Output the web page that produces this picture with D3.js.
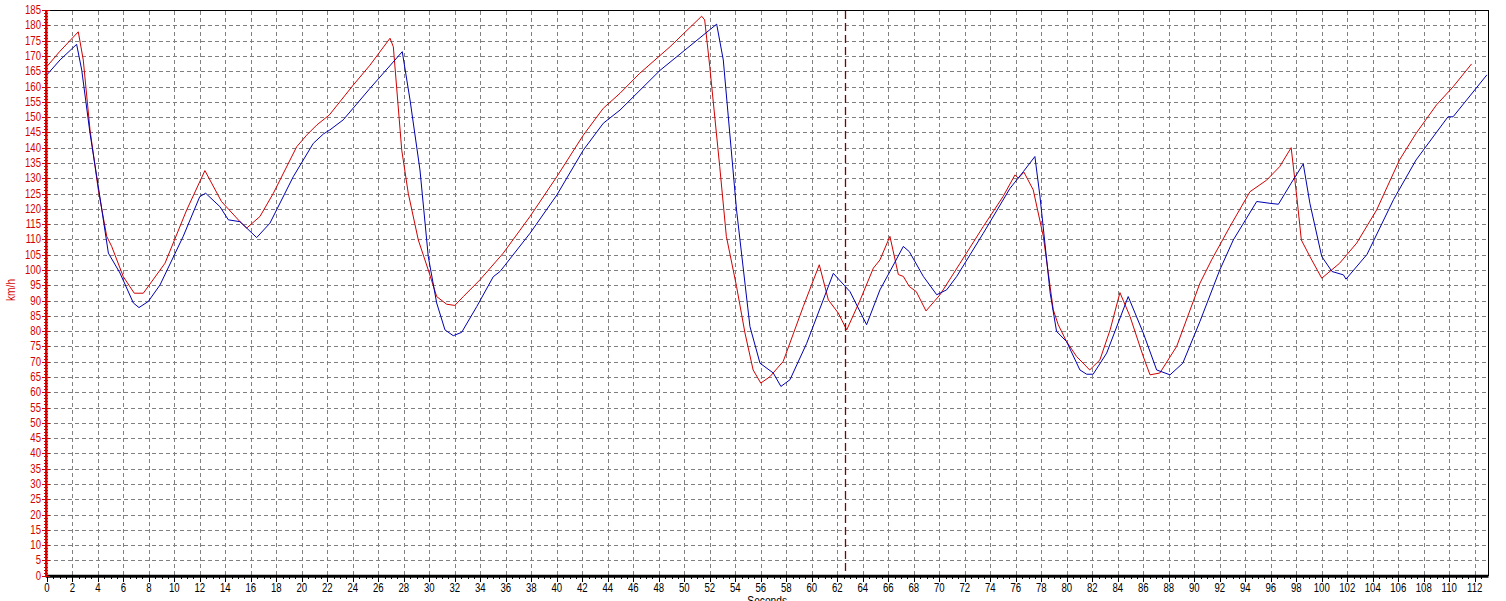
<!DOCTYPE html>
<html>
<head>
<meta charset="utf-8">
<script src="https://cdn.jsdelivr.net/npm/d3@7"></script>
<style>
html,body{margin:0;padding:0;background:#fff;overflow:hidden;}
svg{display:block;}
</style>
</head>
<body>
<svg id="chart" width="1506" height="601"></svg>
<script>
// ---- data ----
const redT = [0,1.0,2.47,2.86,3.39,4.04,4.7,5.09,6.0,6.86,7.57,9.27,10.97,12.4,13.7,15.15,15.68,16.72,17.77,19.6,20.38,21.17,22.16,24.04,25.35,26.92,27.18,27.84,28.35,29.14,29.92,30.58,31.36,32.0,32.67,33.98,35.8,37.9,40.0,42.08,43.65,44.96,46.5,48.88,51.36,51.6,52.0,52.78,53.3,54.1,54.76,55.4,56.0,56.72,57.76,59.33,60.59,61.3,62.08,62.74,63.8,64.83,65.35,66.13,66.79,67.18,67.65,68.2,68.96,70.06,71.63,73.45,75.0,75.94,76.2,76.64,77.37,78.16,78.94,79.33,79.98,80.77,81.8,82.6,83.4,84.17,84.96,86.0,86.53,87.3,88.62,90.45,91.36,92.8,94.37,95.68,96.7,97.6,98.04,98.4,99.07,100.0,101.4,102.74,104.3,106.1,107.4,109.0,110.3,111.75];
const redV = [166.5,171.4,177.9,168.7,145.8,126.2,111,107.7,97.8,92.4,92.4,102.2,119.6,132.5,122.4,115.8,113.7,117.5,125.1,140.3,144.1,147.4,150.7,160.5,167,175.8,173,139.2,125.1,109.8,100,91.3,88.8,88.4,91.3,96.8,105.5,117.5,130.5,144.1,152.9,157.8,164.3,173,183,181.8,166.5,133.8,111,94.6,79.4,67.3,63,65.1,70.1,88,101.7,90.2,85.9,80.4,90.2,100.6,103.3,111,98.5,97.9,94.6,92.9,86.6,91.9,102.2,114.2,124,131.1,130,132,126.2,111,87,82.1,76.6,71.7,67.3,70.6,80.4,92.6,84.8,71.7,65.7,66.3,75,95.7,103.3,114.2,125.6,129.4,133.8,140,124,109.8,104.4,97.3,102.2,108.8,119.6,136,144.7,154,159.9,167.4];
const blueT = [0,1.04,2.34,2.74,3.39,4.04,4.83,5.74,6.79,7.23,7.96,8.88,10.7,12.0,12.46,13.58,14.24,15.15,16.46,17.5,19.33,20.9,21.7,22.2,23.25,25.35,27.88,28.49,29.27,29.92,30.58,31.23,31.88,32.54,33.72,35.02,35.55,37.9,40.0,42.08,43.65,44.96,48.1,52.54,53.06,54.1,55.15,55.94,56.98,57.58,58.29,59.6,61.69,63.0,64.3,65.35,66.13,67.18,67.65,68.75,69.8,70.58,71.37,73.45,75.55,76.6,77.5,77.9,78.7,79.2,79.98,81.03,81.56,82.07,83.13,84.82,86.0,87.05,88.1,89.1,90.45,92.0,93.06,94.9,95.94,96.6,97.6,98.55,99.07,100.0,100.8,101.7,101.9,103.55,105.64,107.4,109.9,110.3,112.95];
const blueV = [163.8,168.7,173.8,165.4,144.7,127.3,105.5,99,89.2,87.7,89.7,95.1,111,124,125.1,120.7,116.4,115.8,110.6,115.3,130.5,141.4,144.5,145.8,149.1,159.4,171.4,155.6,132.7,104.4,89.2,80.4,78.5,79.6,88,97.8,99.5,112,124.5,139.2,148,152.3,165.3,180.4,168.7,119.6,81.5,69.5,66.3,61.9,64.1,76,98.9,92.9,82.1,93.5,99.5,107.7,106,97.9,91.9,93.5,97.9,112,126.7,132.2,137.1,124,92.4,79.9,76.6,67.3,65.9,65.9,72.8,91.3,79.4,67.3,65.7,69.5,83.2,100,109.8,122.4,121.8,121.5,128.4,134.7,121.8,104.4,99.5,98.4,97,105.1,123.1,136,150.1,150.1,163.8];
const markerT = 62.6;
const xTicks = d3.range(0, 113, 2);
const yTicks = d3.range(0, 186, 5);
const xTitle = "Seconds";
const yTitle = "km/h";

// ---- layout ----
const svg = d3.select("#chart");
const L = 46.8, R = 1487.5, T = 10.1, B = 575.7;
const x = d3.scaleLinear().domain([0, 113]).range([L, R]);
const y = d3.scaleLinear().domain([0, 185]).range([B, T]);
const font = "'Liberation Sans', Arial, sans-serif";
const axisRed = "#d40000";

svg.append("rect").attr("width",1506).attr("height",601).attr("fill","#fff");

// grid
const grid = svg.append("g").attr("stroke","#808080").attr("stroke-width",1)
  .attr("stroke-dasharray","4,3").attr("shape-rendering","crispEdges");
grid.selectAll("line.v").data(xTicks.filter(d=>d>0)).enter().append("line")
  .attr("x1",d=>Math.round(x(d))+0.5).attr("x2",d=>Math.round(x(d))+0.5)
  .attr("y1",T+1).attr("y2",B);
grid.selectAll("line.h").data(yTicks.filter(d=>d>0 && d<185)).enter().append("line")
  .attr("y1",d=>Math.round(y(d))+0.5).attr("y2",d=>Math.round(y(d))+0.5)
  .attr("x1",L).attr("x2",R);

// frame top/right
svg.append("line").attr("x1",L).attr("x2",R+0.5).attr("y1",Math.round(T)+0.5).attr("y2",Math.round(T)+0.5)
  .attr("stroke","#000").attr("shape-rendering","crispEdges");
svg.append("line").attr("x1",Math.round(R)+0.5).attr("x2",Math.round(R)+0.5).attr("y1",T).attr("y2",B)
  .attr("stroke","#000").attr("shape-rendering","crispEdges");

// series
const line = d3.line().x(d=>x(d[0])).y(d=>y(d[1]));
svg.append("path").datum(redT.map((t,i)=>[t,redV[i]]))
  .attr("d",line).attr("fill","none").attr("stroke","#d00000").attr("stroke-width",1);
svg.append("path").datum(blueT.map((t,i)=>[t,blueV[i]]))
  .attr("d",line).attr("fill","none").attr("stroke","#0000b0").attr("stroke-width",1);

// marker
svg.append("line").attr("x1",Math.round(x(markerT))+0.5).attr("x2",Math.round(x(markerT))+0.5)
  .attr("y1",T+1).attr("y2",B).attr("stroke","#800000").attr("stroke-width",1.3)
  .attr("stroke-dasharray","8,4");

// x axis
const xa = svg.append("g");
xa.append("line").attr("x1",L-1).attr("x2",R+1).attr("y1",B+0.5).attr("y2",B+0.5)
  .attr("stroke","#000").attr("stroke-width",3);
xa.selectAll("line.minor").data(d3.range(0, 113, 0.5)).enter().append("line")
  .attr("x1",d=>Math.round(x(d))+0.5).attr("x2",d=>Math.round(x(d))+0.5)
  .attr("y1",B).attr("y2",d=>B+(d%2===0?6:3.5)).attr("stroke","#000").attr("shape-rendering","crispEdges");
xa.selectAll("text").data(xTicks).enter().append("text")
  .attr("transform",d=>`translate(${x(d)},${B+16.5}) scale(0.8,1)`)
  .attr("text-anchor","middle").attr("font-family",font).attr("font-size",12)
  .attr("fill","#000").text(d=>d);
svg.append("text").attr("transform",`translate(${(L+R)/2},${B+29}) scale(0.85,1)`)
  .attr("text-anchor","middle").attr("font-family",font).attr("font-size",12)
  .attr("fill","#000").text(xTitle);

// y axis
const ya = svg.append("g");
ya.selectAll("line.minor").data(d3.range(0, 186, 1)).enter().append("line")
  .attr("y1",d=>Math.round(y(d))+0.5).attr("y2",d=>Math.round(y(d))+0.5)
  .attr("x1",d=>d%5===0?L-5:L-3).attr("x2",d=>d%5===0?L+3:L+1.5)
  .attr("stroke",axisRed).attr("shape-rendering","crispEdges");
ya.append("line").attr("x1",L-0.5).attr("x2",L-0.5).attr("y1",T).attr("y2",B+1)
  .attr("stroke",axisRed).attr("stroke-width",2.5);
ya.selectAll("text").data(yTicks).enter().append("text")
  .attr("transform",d=>`translate(41,${y(d)+4}) scale(0.8,1)`)
  .attr("text-anchor","end").attr("font-family",font).attr("font-size",12)
  .attr("fill",axisRed).text(d=>d);
svg.append("text").attr("transform",`translate(15,${290}) rotate(-90) scale(0.85,1)`)
  .attr("text-anchor","middle").attr("font-family",font).attr("font-size",12)
  .attr("fill",axisRed).text(yTitle);
</script>
</body>
</html>
